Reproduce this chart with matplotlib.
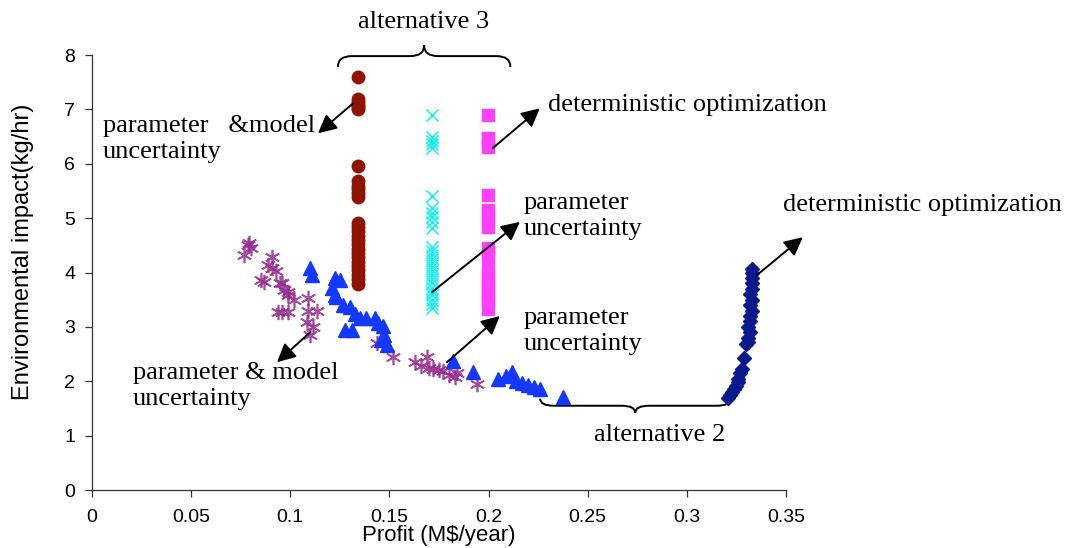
import matplotlib.pyplot as plt
from matplotlib.path import Path
from matplotlib.patches import PathPatch

# parameter & model uncertainty, alternative 2 (purple stars)
star_x = [0.0785, 0.0790, 0.0765, 0.0800, 0.0908, 0.0888, 0.0910, 0.0930, 0.0870, 0.0850,
          0.0950, 0.0970, 0.0990, 0.1020, 0.0960, 0.0990, 0.0940, 0.0960, 0.0990, 0.1090,
          0.1090, 0.1135, 0.1084, 0.1115, 0.1100, 0.1437, 0.1520, 0.1630, 0.1660, 0.1690,
          0.1700, 0.1720, 0.1750, 0.1770, 0.1800, 0.1830, 0.1840, 0.1940]
star_y = [4.50, 4.54, 4.32, 4.46, 4.28, 4.14, 4.08, 4.02, 3.82, 3.86,
          3.80, 3.68, 3.64, 3.49, 3.80, 3.58, 3.27, 3.27, 3.27, 3.53,
          3.30, 3.30, 3.09, 3.00, 2.85, 2.70, 2.45, 2.35, 2.28, 2.45,
          2.25, 2.22, 2.20, 2.18, 2.12, 2.08, 2.15, 1.95]

# parameter uncertainty, alternative 2 (blue triangles)
tri_x = [0.110, 0.111, 0.1225, 0.125, 0.121, 0.1225, 0.123, 0.1265, 0.130, 0.1326,
         0.135, 0.138, 0.1276, 0.131, 0.1427, 0.144, 0.147, 0.1473, 0.146, 0.149,
         0.182, 0.192, 0.205, 0.209, 0.212, 0.214, 0.217, 0.220, 0.223, 0.226, 0.2375]
tri_y = [4.08, 3.95, 3.90, 3.86, 3.72, 3.58, 3.55, 3.40, 3.36, 3.23,
         3.16, 3.16, 2.94, 2.94, 3.16, 3.07, 3.01, 2.85, 2.75, 2.67,
         2.38, 2.17, 2.05, 2.10, 2.17, 2.00, 1.97, 1.93, 1.89, 1.85, 1.71]

# deterministic optimization, alternative 2 (navy diamonds)
dia_x = [0.321, 0.322, 0.323, 0.324, 0.325, 0.326, 0.326, 0.327, 0.328, 0.329,
         0.330, 0.331, 0.331, 0.332, 0.331, 0.332, 0.332, 0.333, 0.332, 0.333,
         0.332, 0.333, 0.333, 0.333, 0.333, 0.333]
dia_y = [1.70, 1.75, 1.80, 1.86, 1.92, 1.98, 2.05, 2.15, 2.22, 2.42,
         2.68, 2.72, 2.80, 2.90, 3.00, 3.10, 3.20, 3.30, 3.40, 3.50,
         3.60, 3.70, 3.80, 3.90, 4.00, 4.07]

# parameter & model uncertainty, alternative 3 (brown)
brown_x = 0.134
brown_y = [7.60, 7.19, 7.14, 7.09, 7.04, 7.00, 5.96, 5.68, 5.60, 5.53, 5.46, 5.39,
           4.91, 4.84, 4.76, 4.68, 4.60, 4.52, 4.44, 4.36, 4.28, 4.20, 4.12, 4.04,
           3.96, 3.88, 3.79]

# parameter uncertainty, alternative 3 (cyan crosses)
cyan_x = 0.1715
cyan_y = [6.89, 6.49, 6.42, 6.36, 6.29, 5.40, 5.18, 5.10, 5.02, 4.92, 4.82,
          4.47, 4.40, 4.33, 4.25, 4.18, 4.10, 4.02, 3.95, 3.88, 3.80, 3.72,
          3.65, 3.58, 3.50, 3.42, 3.35]

# deterministic optimization, alternative 3 (magenta squares)
mag_x = 0.1998
mag_y = [6.89, 6.47, 6.40, 6.30, 5.42, 5.15, 5.05, 4.95, 4.83, 4.45, 4.36, 4.28,
         4.06, 3.95, 3.85, 3.75, 3.65, 3.55, 3.45, 3.33]

fig = plt.figure(figsize=(10.66, 5.48), dpi=100)
ax = fig.add_axes([0.0863, 0.1058, 0.651, 0.7938])

ax.plot(star_x, star_y, linestyle='none', marker=(6, 2, 0), ms=11, mew=1.2,
        color='#962d8f', alpha=0.85)
ax.plot(tri_x, tri_y, linestyle='none', marker='^', ms=10, color='#1438ff')
ax.plot(dia_x, dia_y, linestyle='none', marker='D', ms=7, color='#0a1a8c')
ax.plot([brown_x] * len(brown_y), brown_y, linestyle='none', marker='o', ms=9,
        color='#8f1400')
ax.plot([cyan_x] * len(cyan_y), cyan_y, linestyle='none', marker='x', ms=9, mew=1.0,
        color='#00f0f0')
ax.plot([mag_x] * len(mag_y), mag_y, linestyle='none', marker='s', ms=9,
        color='#ff40ff')

ax.set_xlim(0, 0.35)
ax.set_ylim(0, 8)
ax.set_xticks([0, 0.05, 0.1, 0.15, 0.2, 0.25, 0.3, 0.35])
ax.set_xticklabels(['0', '0.05', '0.1', '0.15', '0.2', '0.25', '0.3', '0.35'])
ax.set_yticks(range(0, 9))
for s in ['top', 'right']:
    ax.spines[s].set_visible(False)
for s in ['left', 'bottom']:
    ax.spines[s].set_color('#333333')
    ax.spines[s].set_linewidth(0.9)
ax.tick_params(direction='out', length=5, width=0.9, color='#333333',
               labelsize=14, pad=7)
ax.tick_params(axis='x', pad=9)
for lab in ax.get_xticklabels() + ax.get_yticklabels():
    lab.set_fontfamily('Liberation Sans')
ax.set_xlabel('Profit (M$/year)', fontsize=16, family='Liberation Sans', labelpad=-1)
ax.set_ylabel('Environmental impact(kg/hr)', fontsize=17, family='Liberation Sans')
ax.yaxis.set_label_coords(-0.083, 0.547)

serif = dict(family='Liberation Serif', fontsize=19, color='black')
arrow = dict(arrowstyle='-|>', mutation_scale=28, lw=1.4, color='black',
             shrinkA=0, shrinkB=0)

# arrows: (tail, head) in data units
arrows = [((0.1316, 7.11), (0.114, 6.56)),
          ((0.2022, 6.29), (0.2259, 7.02)),
          ((0.1715, 3.64), (0.2158, 4.93)),
          ((0.179, 2.35), (0.2057, 3.20)),
          ((0.110, 2.90), (0.0933, 2.35)),
          ((0.3353, 3.95), (0.3585, 4.65))]
for tail, head in arrows:
    ax.annotate('', xy=head, xytext=tail, arrowprops=arrow, annotation_clip=False)

texts = [(0.0055, 6.46, 'parameter   &model\nuncertainty', 'left'),
         (0.230, 7.08, 'deterministic optimization', 'left'),
         (0.2178, 5.04, 'parameter\nuncertainty', 'left'),
         (0.2178, 2.92, 'parameter\nuncertainty', 'left'),
         (0.0207, 1.91, 'parameter & model\nuncertainty', 'left'),
         (0.3485, 5.24, 'deterministic optimization', 'left'),
         (0.1674, 8.60, 'alternative 3', 'center'),
         (0.2864, 1.01, 'alternative 2', 'center')]
for x, y, t, ha in texts:
    ax.text(x, y, t, ha=ha, va='center', linespacing=1.25, clip_on=False, **serif)


def brace(x0, x1, y, h, dx):
    xm = (x0 + x1) / 2
    ym = y + h / 2
    verts = [(x0, y), (x0, ym), (x0 + dx, ym),
             (xm - dx, ym), (xm, ym), (xm, y + h),
             (xm, ym), (xm + dx, ym),
             (x1 - dx, ym), (x1, ym), (x1, y)]
    codes = [Path.MOVETO, Path.CURVE3, Path.CURVE3,
             Path.LINETO, Path.CURVE3, Path.CURVE3,
             Path.CURVE3, Path.CURVE3,
             Path.LINETO, Path.CURVE3, Path.CURVE3]
    ax.add_patch(PathPatch(Path(verts, codes), fill=False, lw=1.4,
                           color='black', clip_on=False))


brace(0.124, 0.211, 7.78, 0.40, 0.007)
brace(0.226, 0.322, 1.68, -0.26, 0.007)

fig.savefig('out.png', dpi=100)
